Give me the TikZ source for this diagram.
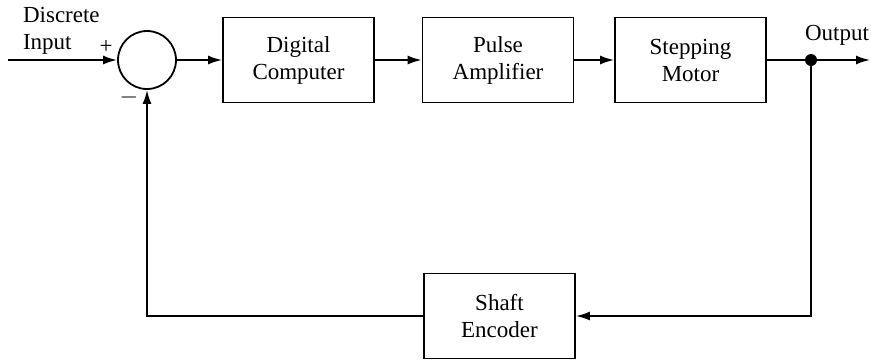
\documentclass[tikz,border=0pt]{standalone}
\usepackage{fontspec}
\setmainfont{Liberation Serif}
\usetikzlibrary{arrows.meta}
\tikzset{
  blockbox/.style={draw, line width=0.9pt, minimum width=75.5pt, minimum height=42.5pt, align=center, inner sep=0pt},
  sumnode/.style={draw, circle, line width=0.9pt, minimum size=29pt, inner sep=0pt},
  arr/.style={line width=0.9pt, -{Latex[length=7pt,width=4.5pt]}}
}
\begin{document}
\begin{tikzpicture}
    [x=0.5pt,y=-0.5pt,font=\fontsize{11.5}{13.5}\selectfont]
  \useasboundingbox (0,0) rectangle (871,361);
  \node[sumnode] (sum) at (147,60) {};
  \node[blockbox] (comp) at (298.5,60) {Digital\\Computer};
  \node[blockbox] (amp) at (498,60) {Pulse\\Amplifier};
  \node[blockbox] (motor) at (690.5,60) {Stepping\\Motor};
  \node[blockbox] (enc) at (499.5,316) {Shaft\\Encoder};
  \fill (811,60) circle (6) coordinate (dot);
  \coordinate (in) at (8,60);
  \coordinate (out) at (870,60);

  \node[align=left, anchor=west] (inlabel) at (16,31) {Discrete\\Input};
  \node (plus) at (106,47) {+};
  \node (minus) at (129,97) {$-$};
  \node (outlabel) at (837,35) {Output};

  \foreach \from/\to in {in/sum, sum/comp, comp/amp, amp/motor, dot/out}
    \draw[arr] (\from) -- (\to);
  \draw[line width=0.9pt] (motor) -- (dot);
  \draw[arr] (dot) |- (enc);
  \draw[arr] (enc) -| (sum);
\end{tikzpicture}
\end{document}
